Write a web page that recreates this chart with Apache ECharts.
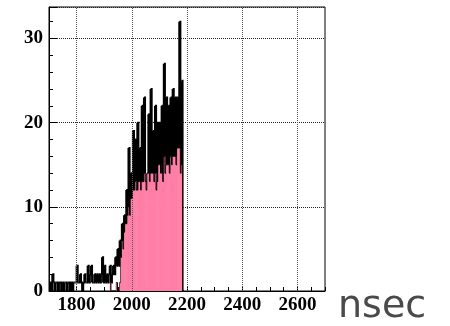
<!DOCTYPE html>
<html>
<head>
<meta charset="utf-8">
<script src="https://cdn.jsdelivr.net/npm/echarts@6/dist/echarts.min.js"></script>
<style>
  html, body { margin: 0; padding: 0; background: #fff; }
  #chart { width: 450px; height: 326px; }
</style>
</head>
<body>
<div id="chart"></div>
<script>
// Histogram binning (nsec)
const binWidth = 4;
const allStart = 1700;
// All hits per 4 ns bin, starting at 1700 ns
const allCounts = [
  0,1,0,2,1,0,1,1,0,1,1,0,1,0,1,1,0,1,1,0,1,0,1,1,1,
  3,1,1,2,1,0,1,2,1,1,3,1,2,3,1,1,2,1,2,1,2,1,2,4,1,
  3,1,2,1,2,3,1,2,3,2,4,3,5,
  3,6,4,8,5,9,8,12,9,17,9,14,
  11,19,12,18,12,20,13,17,12,22,13,23,13,12,14,21,13,24,14,19,13,22,12,20,15,
  20,14,22,13,27,14,23,15,22,14,23,15,24,16,23,15,23,17,32,14,25,0
];
// Selected hits per 4 ns bin, starting at 1920 ns
const selStart = 1920;
const selCounts = [
  1,0,0,0,0,0,1,0,0,1,
  4,6,5,7,8,8,9,10,9,11,
  11,12,12,13,12,12,13,13,12,13,13,14,13,12,14,14,13,14,14,14,13,14,12,13,15,
  15,14,14,13,16,14,15,15,15,14,16,15,16,16,16,15,17,17,17,14,15,0
];
const xTicks = [1800, 2000, 2200, 2400, 2600];
const yTicks = [0, 10, 20, 30];
const xRange = [1700, 2700];
const yRange = [0, 33.75];
const unitLabel = 'nsec';

// One record per bin: [low edge, high edge, count, count of the next bin]
function toBins(start, counts) {
  return counts.map((c, i) => [
    start + i * binWidth,
    start + (i + 1) * binWidth,
    c,
    i + 1 < counts.length ? counts[i + 1] : 0
  ]);
}

// Histogram outline: top of the bin, then the edge down/up to the next bin
function outlineItem(lineWidth) {
  return function (params, api) {
    const x0 = api.value(0), x1 = api.value(1), v = api.value(2), vn = api.value(3);
    const a = api.coord([x0, v]);
    const b = api.coord([x1, v]);
    const c = api.coord([x1, vn]);
    return {
      type: 'polyline',
      shape: { points: [a, b, c] },
      style: { stroke: '#000', lineWidth: lineWidth, fill: null }
    };
  };
}

// Filled bin with its outline
function filledItem(params, api) {
  const x0 = api.value(0), x1 = api.value(1), v = api.value(2), vn = api.value(3);
  const a = api.coord([x0, v]);
  const b = api.coord([x1, v]);
  const c = api.coord([x1, vn]);
  const base = api.coord([x0, 0]);
  return {
    type: 'group',
    children: [
      {
        type: 'rect',
        shape: { x: a[0], y: a[1], width: b[0] - a[0] + 0.6, height: base[1] - a[1] },
        style: { fill: '#ff7fa7' }
      },
      {
        type: 'polyline',
        shape: { points: [a, b, c] },
        style: { stroke: '#000', lineWidth: 1, fill: null }
      }
    ]
  };
}

const labelFont = {
  fontFamily: '"Liberation Serif", "Times New Roman", serif',
  fontWeight: 'bold',
  fontSize: 19,
  color: '#000'
};

const chart = echarts.init(document.getElementById('chart'), null, { renderer: 'canvas' });
chart.setOption({
  animation: false,
  backgroundColor: '#fff',
  grid: {
    left: 49, right: 125, top: 7, bottom: 35,
    show: true, borderColor: '#000', borderWidth: 1, backgroundColor: '#fff'
  },
  xAxis: [
    {
      type: 'value', min: xRange[0], max: xRange[1], interval: 100,
      axisLine: { show: true, lineStyle: { color: '#000', width: 1 } },
      axisTick: { show: false },
      splitLine: { show: false },
      axisLabel: Object.assign({
        margin: 5,
        formatter: v => (xTicks.indexOf(v) >= 0 ? String(v) : '')
      }, labelFont)
    },
    {
      type: 'value', min: xRange[0], max: xRange[1], interval: 50, position: 'bottom',
      axisLine: { show: false },
      axisTick: { show: true, inside: true, length: 4, lineStyle: { color: '#000' } },
      axisLabel: { show: false },
      splitLine: { show: false }
    }
  ],
  yAxis: [
    {
      type: 'value', min: yRange[0], max: yRange[1], interval: 10,
      axisLine: { show: true, lineStyle: { color: '#000', width: 1 } },
      axisTick: { show: true, inside: true, length: 8, lineStyle: { color: '#000' } },
      splitLine: { show: true, lineStyle: { color: '#222', type: [1, 1], width: 1 } },
      axisLabel: Object.assign({
        margin: 6,
        formatter: v => (yTicks.indexOf(v) >= 0 ? String(v) : '')
      }, labelFont)
    },
    {
      type: 'value', min: yRange[0], max: yRange[1], interval: 2, position: 'left', offset: 0,
      axisLine: { show: false },
      axisTick: { show: true, inside: true, length: 4, lineStyle: { color: '#000' } },
      axisLabel: { show: false },
      splitLine: { show: false }
    }
  ],
  graphic: [
    {
      type: 'text', left: 338, top: 288,
      style: { text: unitLabel, font: '38px "DejaVu Sans", sans-serif', fill: '#4a4a4a' }
    }
  ],
  series: [
    {
      // vertical grid lines at labelled ticks
      type: 'line', xAxisIndex: 0, yAxisIndex: 0, data: [], z: 1, silent: true,
      markLine: {
        silent: true, symbol: ['none', 'none'], animation: false,
        label: { show: false },
        lineStyle: { color: '#555', type: [1, 1], width: 1 },
        data: xTicks.map(v => ({ xAxis: v }))
      }
    },
    {
      name: 'all', type: 'custom', xAxisIndex: 0, yAxisIndex: 0, z: 3, clip: true,
      renderItem: outlineItem(2),
      encode: { x: [0, 1], y: 2 },
      data: toBins(allStart, allCounts)
    },
    {
      name: 'selected', type: 'custom', xAxisIndex: 0, yAxisIndex: 0, z: 4, clip: true,
      renderItem: filledItem,
      encode: { x: [0, 1], y: 2 },
      data: toBins(selStart, selCounts)
    }
  ]
});
</script>
</body>
</html>
